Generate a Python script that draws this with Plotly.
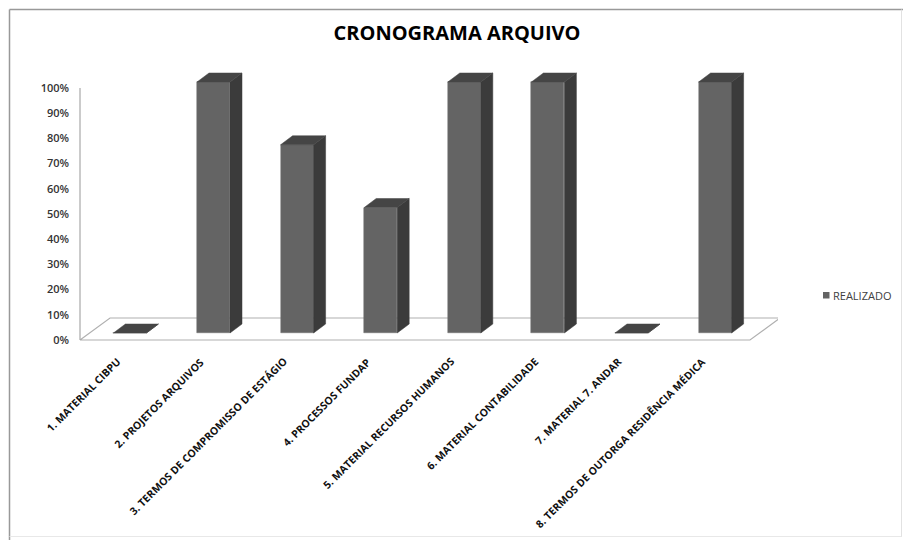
import plotly.graph_objects as go

# ---- data ----
categories = [
    "1. MATERIAL CIBPU",
    "2. PROJETOS ARQUIVOS",
    "3. TERMOS DE COMPROMISSO DE ESTÁGIO",
    "4. PROCESSOS FUNDAP",
    "5. MATERIAL RECURSOS HUMANOS",
    "6. MATERIAL CONTABILIDADE",
    "7. MATERIAL 7. ANDAR",
    "8. TERMOS DE OUTORGA RESIDÊNCIA MÉDICA",
]
realizado = [0, 100, 75, 50, 100, 100, 0, 100]
series_name = "REALIZADO"
y_tick_values = [0, 10, 20, 30, 40, 50, 60, 70, 80, 90, 100]
title_text = "CRONOGRAMA ARQUIVO"

# ---- layout geometry (pixels) ----
W, H = 903, 540
PLOT_L, PLOT_R, PLOT_T, PLOT_B = 80, 778, 60, 345
CAT0_PX, CAT_STEP = 129.9, 83.6          # centre of first bar, spacing
AX_ZERO_PX, AX_UNIT = 340.0, 2.52        # axis scale (px per %)
BAR_ZERO_PX, BAR_UNIT = 333.0, 2.51      # bar scale, set slightly back in depth
BAR_W_PX = 33
DEPTH_DX_PX, DEPTH_DY_PX = 12, 9         # bar depth
FLOOR_DX_PX, FLOOR_DY_PX = 30, 22        # floor depth
FLOOR_FRONT_R_PX = 750
LABEL_TOP_PX = 352                       # top of rotated category labels
LABEL_SHIFT_PX = -4                      # label end relative to bar centre

FRONT = "#646464"
SIDE = "#3b3b3b"
TOP = "#454545"

x_range = [(PLOT_L - CAT0_PX) / CAT_STEP, (PLOT_R - CAT0_PX) / CAT_STEP]
y_range = [(AX_ZERO_PX - PLOT_B) / AX_UNIT, (AX_ZERO_PX - PLOT_T) / AX_UNIT]
y2_range = [(BAR_ZERO_PX - PLOT_B) / BAR_UNIT, (BAR_ZERO_PX - PLOT_T) / BAR_UNIT]

bw = BAR_W_PX / CAT_STEP
ddx = DEPTH_DX_PX / CAT_STEP
ddy = DEPTH_DY_PX / BAR_UNIT


def px_to_paper_x(px):
    return (px - PLOT_L) / (PLOT_R - PLOT_L)


def px_to_paper_y(py):
    return (PLOT_B - py) / (PLOT_B - PLOT_T)


xs = list(range(len(categories)))

fig = go.Figure()
fig.add_trace(go.Bar(
    x=xs, y=realizado, yaxis="y2", width=bw, name=series_name,
    marker=dict(color=FRONT, line=dict(color="#707070", width=0.5)),
    showlegend=False,
))

shapes = []

# floor parallelogram
fx0 = x_range[0]
fx1 = (FLOOR_FRONT_R_PX - CAT0_PX) / CAT_STEP
fdx = FLOOR_DX_PX / CAT_STEP
fdy = FLOOR_DY_PX / AX_UNIT
shapes.append(dict(
    type="path", xref="x", yref="y", layer="below",
    path=f"M {fx0} 0 L {fx1} 0 L {fx1 + fdx} {fdy} L {fx0 + fdx} {fdy} Z",
    line=dict(color="#b0b0b0", width=1.2), fillcolor="white",
))

# vertical value axis line
shapes.append(dict(
    type="line", xref="x domain", yref="y", x0=0, x1=0, y0=0, y1=100,
    line=dict(color="#a8a8a8", width=1.2),
))

# side and top faces of each bar
for i, v in zip(xs, realizado):
    xl, xr = i - bw / 2, i + bw / 2
    shapes.append(dict(
        type="path", xref="x", yref="y2", layer="above",
        path=f"M {xr} 0 L {xr + ddx} {ddy} L {xr + ddx} {v + ddy} L {xr} {v} Z",
        line=dict(color=SIDE, width=0.5), fillcolor=SIDE,
    ))
    shapes.append(dict(
        type="path", xref="x", yref="y2", layer="above",
        path=f"M {xl} {v} L {xr} {v} L {xr + ddx} {v + ddy} L {xl + ddx} {v + ddy} Z",
        line=dict(color=TOP, width=0.5), fillcolor=TOP,
    ))

# series key swatch
shapes.append(dict(
    type="rect", xref="paper", yref="paper",
    x0=px_to_paper_x(823), x1=px_to_paper_x(829.5),
    y0=px_to_paper_y(298.5), y1=px_to_paper_y(292),
    line=dict(width=0), fillcolor=FRONT,
))

# outer frame
frame = [
    ((9.5, 9.5), (903, 9.5), "#999999", 1.5),
    ((9.5, 9.5), (9.5, 540), "#999999", 1.5),
    ((901.5, 9.5), (901.5, 537), "#e2e2e2", 1),
    ((9.5, 536.5), (901.5, 536.5), "#e8e8e8", 1),
]
for (ax, ay), (bx, by), col, lw in frame:
    shapes.append(dict(
        type="line", xref="paper", yref="paper",
        x0=px_to_paper_x(ax), x1=px_to_paper_x(bx),
        y0=px_to_paper_y(ay), y1=px_to_paper_y(by),
        line=dict(color=col, width=lw),
    ))

annotations = []
# rotated category labels
for i, name in zip(xs, categories):
    annotations.append(dict(
        x=i + LABEL_SHIFT_PX / CAT_STEP, xref="x",
        y=px_to_paper_y(LABEL_TOP_PX), yref="paper",
        text=name, textangle=-45, showarrow=False,
        xanchor="right", yanchor="top",
        font=dict(size=10.5, weight="bold", color="#111111"),
    ))

# series key text
annotations.append(dict(
    x=px_to_paper_x(831), y=px_to_paper_y(295.5), xref="paper", yref="paper",
    xanchor="left", yanchor="middle", showarrow=False,
    text=series_name,
    font=dict(size=11, color="#404040"),
))

fig.update_layout(
    width=W, height=H,
    margin=dict(l=PLOT_L, r=W - PLOT_R, t=PLOT_T, b=H - PLOT_B, pad=0, autoexpand=False),
    paper_bgcolor="white", plot_bgcolor="rgba(0,0,0,0)",
    font=dict(family="Open Sans, sans-serif", color="#1a1a1a"),
    showlegend=False,
    title=dict(
        text=title_text, x=457 / W, xref="container", xanchor="center",
        y=1 - 33 / H, yref="container", yanchor="middle",
        font=dict(size=20, weight="bold", color="#000000"),
    ),
    xaxis=dict(
        range=x_range, tickmode="array", tickvals=xs, showticklabels=False,
        showgrid=False, zeroline=False, showline=False, ticks="",
        fixedrange=True,
    ),
    yaxis=dict(
        range=y_range, tickmode="array", tickvals=y_tick_values,
        ticktext=[f"{v}%" for v in y_tick_values],
        showgrid=False, zeroline=False, showline=False, ticks="",
        ticklabelstandoff=10,
        tickfont=dict(size=11, weight=600, color="#333333"),
    ),
    yaxis2=dict(
        range=y2_range, overlaying="y", visible=False,
    ),
    annotations=annotations,
    shapes=shapes,
    bargap=0,
)

fig.write_html("out.html")
